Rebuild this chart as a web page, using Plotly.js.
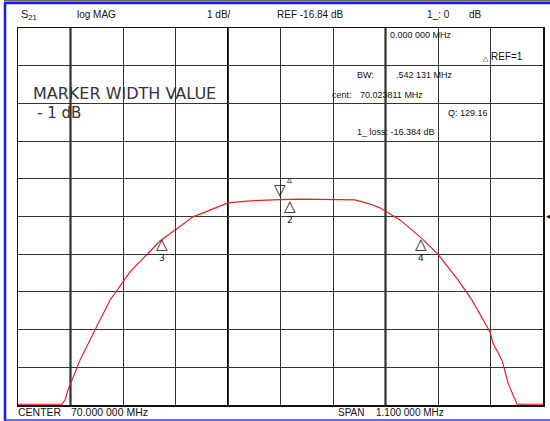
<!DOCTYPE html>
<html>
<head>
<meta charset="utf-8">
<script src="https://cdn.plot.ly/plotly-3.0.1.min.js"></script>
<style>html,body{margin:0;padding:0;background:#fff;}#chart{width:550px;height:421px;}</style>
</head>
<body>
<div id="chart"></div>
<script>
// ---- data (frequency in MHz, S21 magnitude in dB) ----
const freqMHz = [69.45, 69.5422, 69.5485, 69.5548, 69.5631, 69.5799, 69.6113, 69.6428, 69.6847, 69.7266,
  69.7475, 69.7790, 69.8167, 69.8523, 69.8900, 69.9298, 69.9675, 69.9990, 70.0409, 70.0828,
  70.1247, 70.1561, 70.1875, 70.2085, 70.2504, 70.2923, 70.3279, 70.3719, 70.4012, 70.4243,
  70.4390, 70.4452, 70.4641, 70.4767, 70.4955, 70.55];
const s21dB = [-21.82, -21.82, -21.71, -21.44, -21.18, -20.65, -19.85, -19.06, -18.31, -17.78,
  -17.49, -17.20, -16.85, -16.67, -16.48, -16.43, -16.40, -16.39, -16.38, -16.38,
  -16.38, -16.40, -16.51, -16.61, -16.93, -17.38, -17.81, -18.52, -19.06, -19.59,
  -19.90, -20.20, -20.65, -21.26, -21.82, -21.82];
// markers
const markerX = [70.0199, 69.7527, 70.2949];
const markerY = [-16.384, -17.384, -17.384];
const markerLabels = ["2", "3", "4"];
const refMarkerX = [69.999];
const refMarkerY = [-16.39];
// axis settings
const centerMHz = 70.0, spanMHz = 1.1, refLevel = -16.84, dbPerDiv = 1;

const xMin = centerMHz - spanMHz / 2, xMax = centerMHz + spanMHz / 2;
const yMin = refLevel - 5 * dbPerDiv, yMax = refLevel + 5 * dbPerDiv;

// pixel -> paper helper for layout text
const L = 18, R = 543, T = 28, B = 405;
function px(x) { return (x - L) / (R - L); }
function py(y) { return (B - y) / (B - T); }

const font = "Liberation Sans, Arial, sans-serif";
function txt(x, y, s, size, anchor, color, fam) {
  return { xref: 'paper', yref: 'paper', x: px(x), y: py(y), text: s, showarrow: false,
    xanchor: anchor || 'left', yanchor: 'middle', font: { family: fam || font, size: size || 10, color: color || '#111' } };
}

const ann = [
  txt(19, 15, 'S<sub>21</sub>', 11),
  txt(75, 15, 'log MAG', 10),
  txt(205, 15, '1 dB/', 10),
  txt(275, 15, 'REF -16.84 dB', 10),
  txt(425, 15, '1_: 0', 10),
  txt(467, 15, 'dB', 10),
  txt(388, 35, '0.000 000 MHz', 9),
  txt(481, 58, '△', 7),
  txt(489, 57, 'REF=1', 10),
  txt(355, 75, 'BW:', 9),
  txt(394, 75, '.542 131 MHz', 9),
  txt(330, 95, 'cent:', 9),
  txt(358, 95, '70.023811 MHz', 9),
  txt(446, 113, 'Q: 129.16', 9),
  txt(355, 132, '1_ loss: -16.384 dB', 9),
  txt(31, 93, 'MARKER WIDTH VALUE', 16, 'left', '#333', 'DejaVu Sans'),
  txt(35, 113, '- 1 dB', 15, 'left', '#333', 'DejaVu Sans'),
  txt(16, 412, 'CENTER', 10.5),
  txt(69, 412, '70.000 000 MHz', 10.5),
  txt(336, 412, 'SPAN', 10),
  txt(374, 412, '1.100 000 MHz', 10),
  txt(544, 216, '◂', 9)
];
for (let i = 0; i < markerX.length; i++) {
  ann.push({ x: markerX[i], y: markerY[i], xref: 'x', yref: 'y',
    text: '<span style="font-size:15px">△</span><br>' + markerLabels[i], showarrow: false,
    yanchor: 'top', yshift: 4, font: { family: 'DejaVu Sans', size: 9, color: '#111' } });
}
for (let i = 0; i < refMarkerX.length; i++) {
  ann.push({ x: refMarkerX[i], y: refMarkerY[i], xref: 'x', yref: 'y', text: '▽', showarrow: false,
    yanchor: 'bottom', yshift: -1, font: { family: 'DejaVu Sans', size: 15, color: '#111' } });
  ann.push({ x: refMarkerX[i], y: refMarkerY[i], xref: 'x', yref: 'y', text: 'Δ', showarrow: false,
    yanchor: 'bottom', xshift: 9, yshift: 14, font: { family: font, size: 7, color: '#111' } });
}

const shapes = [
  // blue frame
  { type: 'line', xref: 'paper', yref: 'paper', x0: px(5), x1: px(5), y0: py(3), y1: py(421), line: { color: '#1a1ae0', width: 2.5 } },
  { type: 'line', xref: 'paper', yref: 'paper', x0: px(4), x1: px(550), y0: py(3), y1: py(3), line: { color: '#1a1ae0', width: 2.5 } },
  { type: 'line', xref: 'paper', yref: 'paper', x0: px(4), x1: px(550), y0: py(420), y1: py(420), line: { color: '#3a3af0', width: 1.5 } },
  { type: 'line', xref: 'paper', yref: 'paper', x0: px(4), x1: px(550), y0: py(0.8), y1: py(0.8), line: { color: '#222', width: 1 } }
];
// darker major verticals
[1, 4, 7].forEach(k => {
  const xv = xMin + k * spanMHz / 10;
  shapes.push({ type: 'line', xref: 'x', yref: 'paper', x0: xv, x1: xv, y0: 0, y1: 1, line: { color: '#000', width: 2 }, layer: 'below' });
});

const trace = {
  x: freqMHz, y: s21dB, type: 'scatter', mode: 'lines',
  line: { color: '#e02020', width: 1.2 }, hoverinfo: 'skip'
};

const layout = {
  width: 550, height: 421,
  margin: { l: L, r: 550 - R, t: T, b: 421 - B, pad: 0 },
  paper_bgcolor: '#fff', plot_bgcolor: '#fff',
  showlegend: false,
  xaxis: { range: [xMin, xMax], tick0: xMin, dtick: spanMHz / 10, showticklabels: false, ticks: '',
    showgrid: true, gridcolor: '#333', gridwidth: 1, zeroline: false,
    showline: true, linecolor: '#111', linewidth: 1.5, mirror: true, fixedrange: true },
  yaxis: { range: [yMin, yMax], tick0: yMin, dtick: dbPerDiv, showticklabels: false, ticks: '',
    showgrid: true, gridcolor: '#333', gridwidth: 1, zeroline: false,
    showline: true, linecolor: '#111', linewidth: 1.5, mirror: true, fixedrange: true },
  annotations: ann,
  shapes: shapes
};

Plotly.newPlot('chart', [trace], layout, { staticPlot: true, displayModeBar: false });
</script>
</body>
</html>
